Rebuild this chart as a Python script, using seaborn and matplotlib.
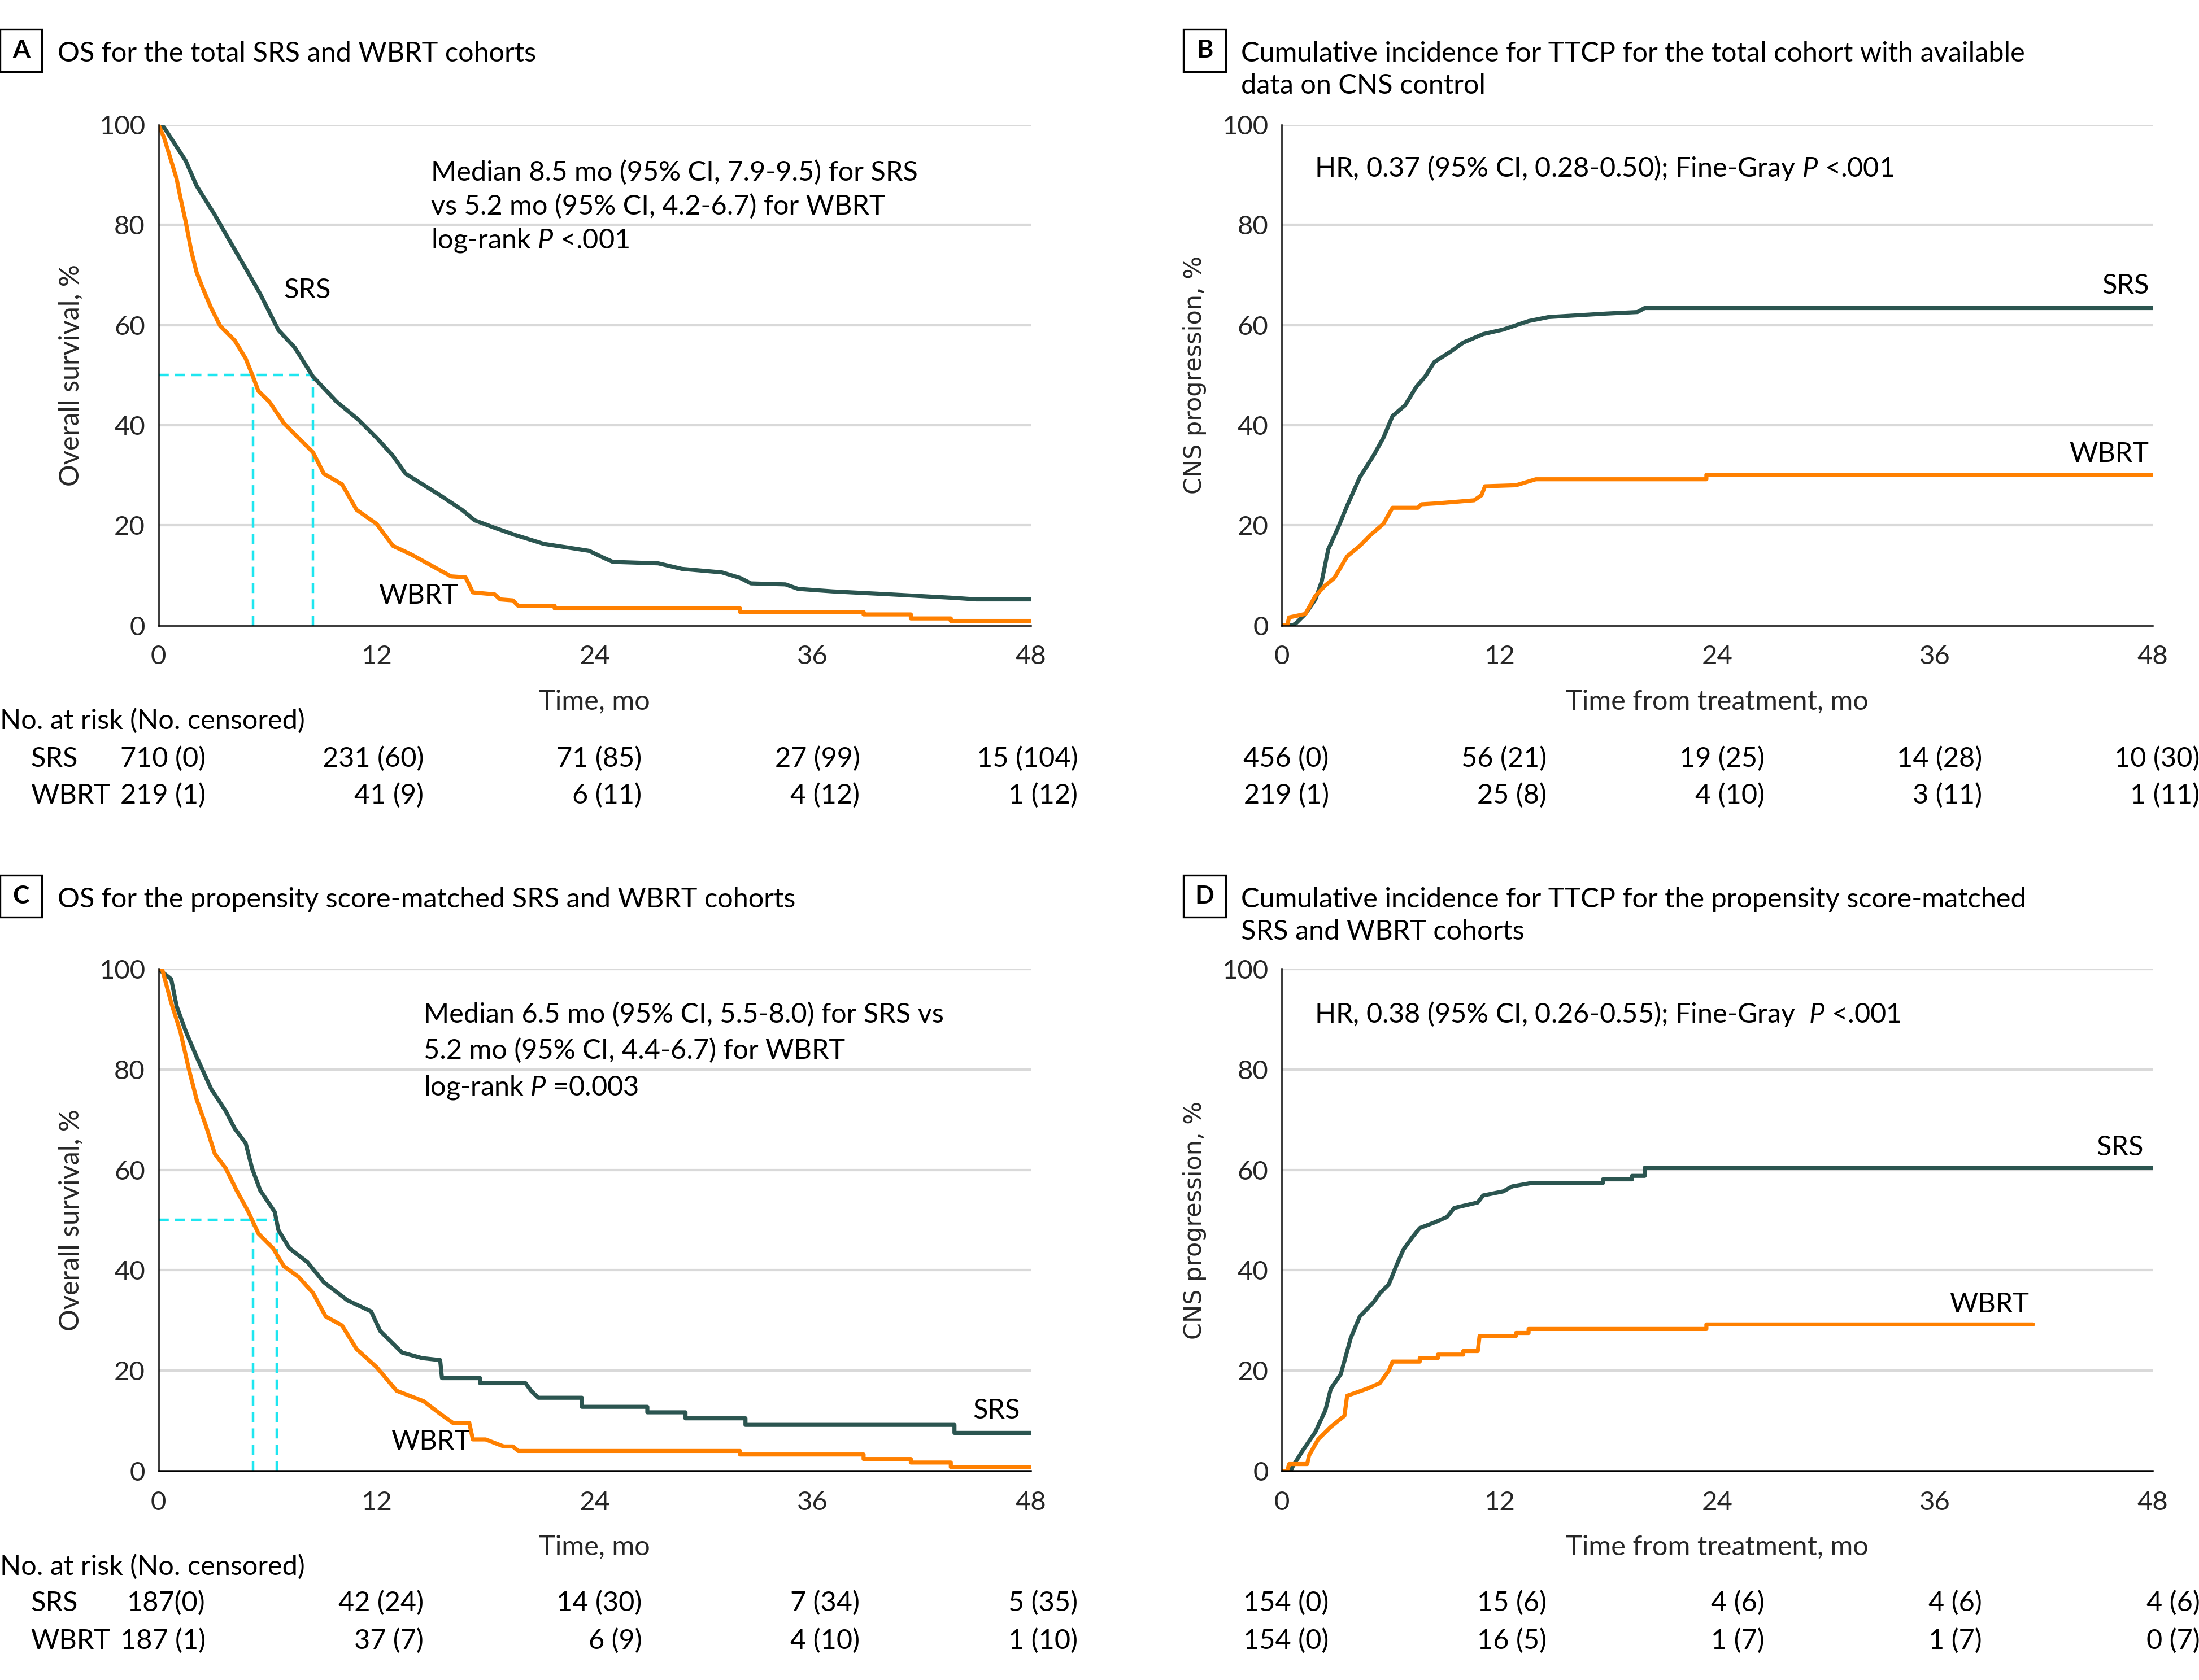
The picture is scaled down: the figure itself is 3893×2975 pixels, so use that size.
import numpy as np
import pandas as pd
import matplotlib
matplotlib.use("Agg")
import matplotlib.pyplot as plt
import matplotlib.transforms as mtransforms
from matplotlib.patches import Rectangle
import seaborn as sns

sns.set_theme(style="white")
plt.rcParams['font.family'] = ['Lato', 'DejaVu Sans']
plt.rcParams['mathtext.fontset'] = 'custom'
plt.rcParams['mathtext.it'] = 'Lato:italic'
plt.rcParams['mathtext.rm'] = 'Lato'
plt.rcParams['text.color'] = 'black'

SRS_COLOR = '#2b5550'
WBRT_COLOR = '#ff8000'
MED_COLOR = '#1ee6f0'
GRID_COLOR = '#d9d9d9'

# ---- panel A: OS, total cohorts
a_srs_t = [0, 0.3, 0.86, 1.5, 2.1, 3.1, 4.0, 4.8, 5.6, 6.6, 7.5, 8.5, 9.8, 11.0, 12.0, 12.9, 13.6,
           15.5, 16.7, 17.4, 18.5, 19.6, 21.2, 23.0, 23.7, 24.5, 25.0, 27.5, 28.8, 31.0, 32.0, 32.6,
           34.5, 35.2, 37.1, 40.3, 43.8, 45.0, 48]
a_srs_y = [100, 99.5, 96.4, 92.8, 87.8, 82, 76.3, 71.3, 66.2, 59, 55.5, 49.7, 44.7, 41.1, 37.5, 33.9,
           30.3, 26, 23.1, 21, 19.5, 18.1, 16.3, 15.3, 14.9, 13.5, 12.7, 12.4, 11.3, 10.6, 9.5, 8.4,
           8.2, 7.3, 6.8, 6.2, 5.5, 5.2, 5.2]
a_wbrt_t = [0, 0.3, 0.7, 1.0, 1.2, 1.5, 1.8, 2.1, 2.4, 2.9, 3.4, 4.2, 4.8, 5.2, 5.5, 6.1, 6.9, 7.5, 8.5,
            9.1, 10.1, 10.9, 12.0, 12.9, 13.9, 15.2, 16.1, 16.9, 17.3, 18.5, 18.8, 19.5, 19.8, 21.8,
            21.8, 32.0, 32.0, 38.8, 38.8, 41.4, 41.4, 43.6, 43.6, 48]
a_wbrt_y = [100, 97.5, 92.8, 89.2, 85.6, 80.6, 74.9, 70.5, 67.7, 63.4, 59.8, 56.9, 53.3, 49.7, 46.8,
            44.7, 40.4, 38.2, 34.6, 30.3, 28.2, 23.1, 20.3, 15.9, 14.2, 11.6, 9.8, 9.6, 6.6, 6.2, 5.2,
            5.0, 3.9, 3.9, 3.4, 3.4, 2.7, 2.7, 2.2, 2.2, 1.4, 1.4, 0.9, 0.9]

# ---- panel B: cumulative incidence, total cohort
b_srs_t = [0, 0.6, 0.8, 1.3, 1.85, 2.2, 2.56, 3.1, 3.6, 4.3, 5.05, 5.6, 6.1, 6.8, 7.4, 7.9, 8.4, 9.3,
           10.0, 11.1, 12.2, 13.6, 14.7, 17.9, 19.6, 20.0, 48]
b_srs_y = [0, 0, 0.5, 2.3, 5.2, 8.8, 15.2, 19.5, 23.9, 29.6, 33.9, 37.5, 41.8, 44, 47.6, 49.7, 52.6,
           54.7, 56.5, 58.2, 59.1, 60.8, 61.6, 62.3, 62.6, 63.4, 63.4]
b_wbrt_t = [0, 0.3, 0.4, 1.3, 1.85, 2.4, 2.9, 3.6, 4.3, 4.9, 5.6, 6.1, 7.5, 7.7, 8.6, 10.6, 11.0, 11.2,
            12.9, 14.0, 23.4, 23.4, 48]
b_wbrt_y = [0, 0, 1.6, 2.3, 5.9, 8, 9.5, 13.8, 15.9, 18.1, 20.3, 23.5, 23.5, 24.2, 24.4, 25.0, 26,
            27.8, 28.0, 29.2, 29.2, 30.1, 30.1]

# ---- panel C: OS, propensity score-matched
c_srs_t = [0, 0.7, 1.0, 1.5, 2.1, 2.9, 3.7, 4.2, 4.8, 5.15, 5.6, 6.4, 6.6, 7.2, 8.2, 9.1, 10.4, 11.7,
           12.2, 13.4, 14.5, 15.5, 15.6, 17.7, 17.7, 20.2, 20.5, 20.9, 23.3, 23.3, 26.9, 26.9, 29.0,
           29.0, 32.3, 32.3, 43.8, 43.8, 48]
c_srs_y = [100, 98, 92.6, 87.6, 82.5, 76.1, 71.7, 68.2, 65.3, 60.3, 55.9, 51.6, 48, 44.4, 41.6, 37.6,
           34, 31.8, 27.9, 23.6, 22.5, 22.1, 18.5, 18.5, 17.5, 17.5, 16.0, 14.6, 14.6, 12.8, 12.8,
           11.7, 11.7, 10.5, 10.5, 9.2, 9.2, 7.6, 7.6]
c_wbrt_t = [0, 0.2, 0.7, 1.2, 1.65, 2.1, 2.6, 3.1, 3.7, 4.3, 4.95, 5.5, 6.3, 6.9, 7.7, 8.5, 9.2, 10.1,
            10.9, 12.0, 13.1, 14.6, 15.5, 16.2, 17.1, 17.3, 18.0, 18.5, 19.0, 19.5, 19.8, 32.0, 32.0,
            38.8, 38.8, 41.4, 41.4, 43.6, 43.6, 48]
c_wbrt_y = [100, 100, 93.3, 87.6, 80.4, 74, 68.9, 63.2, 60.3, 55.9, 51.6, 47.3, 44.4, 40.8, 38.7,
            35.5, 30.8, 29, 24.3, 20.7, 16, 13.9, 11.4, 9.6, 9.6, 6.3, 6.3, 5.6, 4.9, 4.9, 4.0, 4.0,
            3.3, 3.3, 2.4, 2.4, 1.7, 1.7, 0.8, 0.8]

# ---- panel D: cumulative incidence, propensity score-matched
d_srs_t = [0, 0.5, 0.6, 1.1, 1.85, 2.4, 2.7, 3.25, 3.8, 4.3, 5.05, 5.4, 5.9, 6.3, 6.7, 7.2, 7.6, 8.4,
           9.1, 9.5, 10.8, 11.1, 12.2, 12.7, 13.8, 17.7, 17.7, 19.3, 19.3, 20.0, 20.0, 48]
d_srs_y = [0, 0, 0.9, 3.8, 7.8, 12.1, 16.4, 19.3, 26.5, 30.8, 33.6, 35.4, 37.2, 40.8, 44.1, 46.6,
           48.4, 49.5, 50.6, 52.4, 53.5, 54.9, 55.7, 56.7, 57.4, 57.4, 58.1, 58.1, 58.8, 58.8, 60.4,
           60.4]
d_wbrt_t = [0, 0.3, 0.4, 1.4, 1.5, 2.0, 2.7, 3.45, 3.6, 4.7, 5.4, 5.9, 6.1, 7.6, 7.6, 8.6, 8.6, 10.0,
            10.0, 10.8, 10.9, 12.9, 12.9, 13.6, 13.6, 23.4, 23.4, 41.4]
d_wbrt_y = [0, 0, 1.4, 1.4, 3.1, 6.3, 8.8, 11, 15, 16.4, 17.5, 20, 21.8, 21.8, 22.5, 22.5, 23.2, 23.2,
            23.9, 23.9, 26.9, 26.9, 27.5, 27.5, 28.3, 28.3, 29.2, 29.2]

# ---- numbers at risk (No. censored)
risk_times = [0, 12, 24, 36, 48]
a_risk_srs = ["710 (0)", "231 (60)", "71 (85)", "27 (99)", "15 (104)"]
a_risk_wbrt = ["219 (1)", "41 (9)", "6 (11)", "4 (12)", "1 (12)"]
b_risk_srs = ["456 (0)", "56 (21)", "19 (25)", "14 (28)", "10 (30)"]
b_risk_wbrt = ["219 (1)", "25 (8)", "4 (10)", "3 (11)", "1 (11)"]
c_risk_srs = ["187(0)", "42 (24)", "14 (30)", "7 (34)", "5 (35)"]
c_risk_wbrt = ["187 (1)", "37 (7)", "6 (9)", "4 (10)", "1 (10)"]
d_risk_srs = ["154 (0)", "15 (6)", "4 (6)", "4 (6)", "4 (6)"]
d_risk_wbrt = ["154 (0)", "16 (5)", "1 (7)", "1 (7)", "0 (7)"]

a_medians = [5.2, 8.5]
c_medians = [5.2, 6.5]

a_note = ['Median 8.5 mo (95% CI, 7.9-9.5) for SRS', 'vs 5.2 mo (95% CI, 4.2-6.7) for WBRT',
          'log-rank $P$ <.001']
b_note = ['HR, 0.37 (95% CI, 0.28-0.50); Fine-Gray $P$ <.001']
c_note = ['Median 6.5 mo (95% CI, 5.5-8.0) for SRS vs', '5.2 mo (95% CI, 4.4-6.7) for WBRT',
          'log-rank $P$ =0.003']
d_note = ['HR, 0.38 (95% CI, 0.26-0.55); Fine-Gray  $P$ <.001']

FS = 17.5
TICK_FS = 17

fig = plt.figure(figsize=(19.465, 14.875), dpi=200)
W, H = 1568.0, 1198.0


def fx(px):
    return px / W


def fy(py):
    return 1 - py / H


axA = fig.add_axes([fx(113), fy(446), fx(735 - 113), (446 - 89) / H])
axB = fig.add_axes([fx(914), fy(446), fx(1535 - 914), (446 - 89) / H])
axC = fig.add_axes([fx(113), fy(1049), fx(735 - 113), (1049 - 691) / H])
axD = fig.add_axes([fx(914), fy(1049), fx(1535 - 914), (1049 - 691) / H])


def draw_curves(ax, srs_t, srs_y, wbrt_t, wbrt_y):
    srs = pd.DataFrame({'time': srs_t, 'value': srs_y})
    wbrt = pd.DataFrame({'time': wbrt_t, 'value': wbrt_y})
    sns.lineplot(data=srs, x='time', y='value', ax=ax, color=SRS_COLOR, estimator=None,
                 sort=False, lw=2.6, zorder=4, legend=False)
    sns.lineplot(data=wbrt, x='time', y='value', ax=ax, color=WBRT_COLOR, estimator=None,
                 sort=False, lw=2.6, zorder=5, legend=False)


def style_axis(ax, xlabel, ylabel, ylabel_font=None):
    ax.set_xlim(0, 48)
    ax.set_ylim(0, 100)
    ax.set_xticks([0, 12, 24, 36, 48])
    ax.set_yticks([0, 20, 40, 60, 80, 100])
    for yv in [20, 40, 60, 80, 100]:
        ax.axhline(yv, color=GRID_COLOR, lw=1.5, zorder=0)
    for s in ['top', 'right']:
        ax.spines[s].set_visible(False)
    for s in ['left', 'bottom']:
        ax.spines[s].set_color('black')
        ax.spines[s].set_linewidth(0.9)
        ax.spines[s].set_zorder(6)
    ax.tick_params(axis='both', direction='out', length=5.5, width=0.9, color='black',
                   labelsize=TICK_FS, pad=3)
    ax.tick_params(axis='x', length=7, pad=5.5)
    ax.set_xlabel(xlabel, fontsize=FS, labelpad=13)
    if ylabel_font:
        ax.set_ylabel(ylabel, fontsize=15.5, family=ylabel_font, labelpad=10)
    else:
        ax.set_ylabel(ylabel, fontsize=FS, labelpad=10)
    ax.set_facecolor('white')


def add_note(ax, x, y0, lines, step):
    for i, line in enumerate(lines):
        ax.text(x, y0 - i * step, line, fontsize=FS, va='baseline', ha='left')


def risk_table(ax, y_rows, srs_vals, wbrt_vals, labels=True, header=None):
    trans = mtransforms.blended_transform_factory(ax.transData, fig.transFigure)
    for t, s in zip(risk_times, srs_vals):
        ax.text(t + 2.6, y_rows[0], s, transform=trans, ha='right', va='baseline', fontsize=FS,
                clip_on=False)
    for t, s in zip(risk_times, wbrt_vals):
        ax.text(t + 2.6, y_rows[1], s, transform=trans, ha='right', va='baseline', fontsize=FS,
                clip_on=False)
    if labels:
        fig.text(fx(22), y_rows[0], 'SRS', ha='left', va='baseline', fontsize=FS)
        fig.text(fx(22), y_rows[1], 'WBRT', ha='left', va='baseline', fontsize=FS)
    if header is not None:
        fig.text(fx(0), header, 'No. at risk (No. censored)', ha='left', va='baseline', fontsize=FS)


def panel_title(letter, x_box, x_text, y_base, lines):
    # boxed panel letter, box is 30 px square in the 1568-wide frame
    fig.add_artist(Rectangle((fx(x_box), fy(y_base + 7)), 30 / W, 30 / H, transform=fig.transFigure,
                             fc='white', ec='black', lw=1.2))
    fig.text(fx(x_box + 15), fy(y_base - 8), letter, ha='center', va='center', fontsize=16,
             fontweight='bold')
    for i, line in enumerate(lines):
        fig.text(fx(x_text), fy(y_base + 23 * i), line, ha='left', va='baseline', fontsize=FS)


draw_curves(axA, a_srs_t, a_srs_y, a_wbrt_t, a_wbrt_y)
draw_curves(axB, b_srs_t, b_srs_y, b_wbrt_t, b_wbrt_y)
draw_curves(axC, c_srs_t, c_srs_y, c_wbrt_t, c_wbrt_y)
draw_curves(axD, d_srs_t, d_srs_y, d_wbrt_t, d_wbrt_y)

for ax, meds in [(axA, a_medians), (axC, c_medians)]:
    ax.plot([0, max(meds)], [50, 50], color=MED_COLOR, lw=1.6, ls=(0, (4, 2.5)), zorder=3)
    for m in meds:
        ax.plot([m, m], [0, 50], color=MED_COLOR, lw=1.6, ls=(0, (4, 2.5)), zorder=3)

style_axis(axA, 'Time, mo', 'Overall survival, %')
style_axis(axC, 'Time, mo', 'Overall survival, %')
style_axis(axB, 'Time from treatment, mo', 'CNS progression, %', ylabel_font='DejaVu Sans')
style_axis(axD, 'Time from treatment, mo', 'CNS progression, %', ylabel_font='DejaVu Sans')

# annotations (baselines in data units)
add_note(axA, 15.0, 88.8, a_note, 6.7)
axA.text(6.9, 67, 'SRS', fontsize=FS, va='center', ha='left')
axA.text(12.1, 5.9, 'WBRT', fontsize=FS, va='center', ha='left')

add_note(axB, 1.8, 89.6, b_note, 6.7)
axB.text(47.8, 67.8, 'SRS', fontsize=FS, va='center', ha='right')
axB.text(47.8, 34.2, 'WBRT', fontsize=FS, va='center', ha='right')

add_note(axC, 14.6, 89.3, c_note, 7.2)
axC.text(47.4, 12, 'SRS', fontsize=FS, va='center', ha='right')
axC.text(12.8, 5.9, 'WBRT', fontsize=FS, va='center', ha='left')

add_note(axD, 1.8, 89.3, d_note, 6.7)
axD.text(47.5, 64.5, 'SRS', fontsize=FS, va='center', ha='right')
axD.text(41.2, 33.2, 'WBRT', fontsize=FS, va='center', ha='right')

# risk tables (baselines)
risk_table(axA, [fy(547), fy(573)], a_risk_srs, a_risk_wbrt, labels=True, header=fy(520))
risk_table(axB, [fy(547), fy(573)], b_risk_srs, b_risk_wbrt, labels=False)
risk_table(axC, [fy(1149), fy(1176)], c_risk_srs, c_risk_wbrt, labels=True, header=fy(1123))
risk_table(axD, [fy(1149), fy(1176)], d_risk_srs, d_risk_wbrt, labels=False)

# panel titles
panel_title('A', 0, 41, 44, ['OS for the total SRS and WBRT cohorts'])
panel_title('B', 844, 885, 44, ['Cumulative incidence for TTCP for the total cohort with available',
                                'data on CNS control'])
panel_title('C', 0, 41, 647, ['OS for the propensity score-matched SRS and WBRT cohorts'])
panel_title('D', 844, 885, 647, ['Cumulative incidence for TTCP for the propensity score-matched',
                                 'SRS and WBRT cohorts'])

fig.savefig('out.png', dpi=200, facecolor='white')
